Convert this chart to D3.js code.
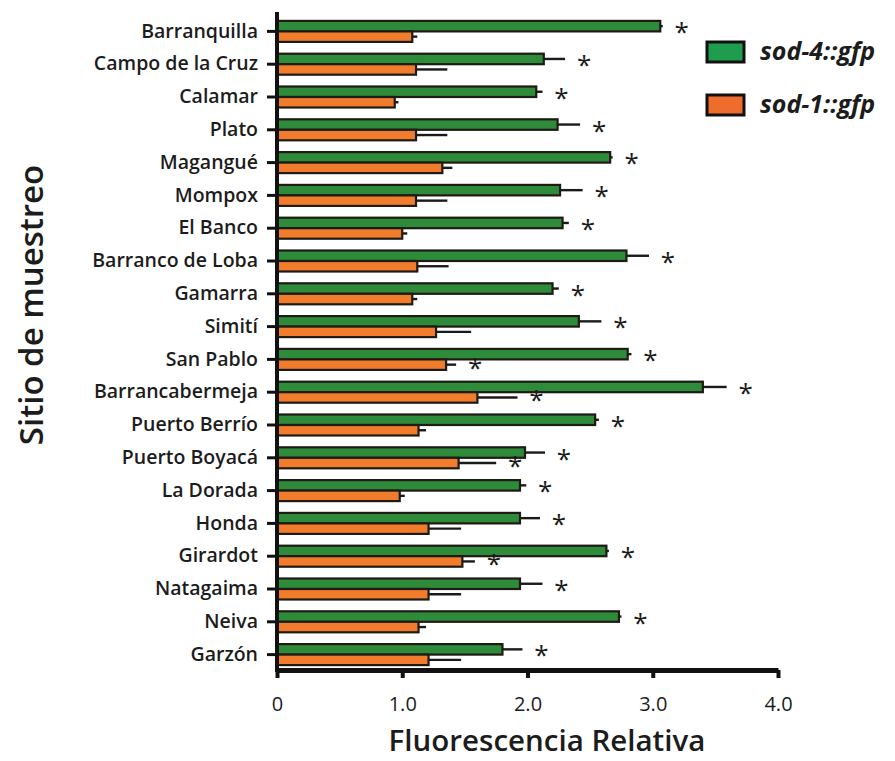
<!DOCTYPE html>
<html>
<head>
<meta charset="utf-8">
<script src="https://cdn.jsdelivr.net/npm/d3@7"></script>
<style>
  html, body { margin: 0; padding: 0; background: #ffffff; }
  svg { display: block; font-family: "Open Sans", "Liberation Sans", sans-serif; }
</style>
</head>
<body>
<svg id="chart" width="895" height="761"></svg>
<script>
// Sampling sites along the river, top to bottom
const sites = ["Barranquilla", "Campo de la Cruz", "Calamar", "Plato", "Magangué", "Mompox",
  "El Banco", "Barranco de Loba", "Gamarra", "Simití", "San Pablo", "Barrancabermeja",
  "Puerto Berrío", "Puerto Boyacá", "La Dorada", "Honda", "Girardot", "Natagaima", "Neiva", "Garzón"];

// Relative fluorescence of the sod-4::gfp reporter (mean and error)
const sod4 = [3.06, 2.13, 2.07, 2.24, 2.66, 2.26, 2.28, 2.79, 2.20, 2.41,
  2.80, 3.40, 2.54, 1.98, 1.94, 1.94, 2.63, 1.94, 2.73, 1.80];
const sod4Err = [0.02, 0.17, 0.05, 0.18, 0.02, 0.18, 0.05, 0.18, 0.05, 0.18,
  0.03, 0.19, 0.03, 0.16, 0.05, 0.16, 0.02, 0.18, 0.02, 0.16];

// Relative fluorescence of the sod-1::gfp reporter (mean and error)
const sod1 = [1.08, 1.11, 0.94, 1.11, 1.32, 1.11, 1.00, 1.12, 1.08, 1.27,
  1.35, 1.60, 1.13, 1.45, 0.98, 1.21, 1.48, 1.21, 1.13, 1.21];
const sod1Err = [0.04, 0.25, 0.03, 0.25, 0.08, 0.25, 0.04, 0.25, 0.04, 0.28,
  0.08, 0.32, 0.06, 0.30, 0.04, 0.26, 0.10, 0.26, 0.06, 0.26];

// Significance marks (*) per site
const sod4Sig = [true, true, true, true, true, true, true, true, true, true,
  true, true, true, true, true, true, true, true, true, true];
const sod1Sig = [false, false, false, false, false, false, false, false, false, false,
  true, true, false, true, false, false, true, false, false, false];

const xTicks = [0, 1, 2, 3, 4];
const xTickLabels = ["0", "1.0", "2.0", "3.0", "4.0"];

const seriesNames = ["sod-4::gfp", "sod-1::gfp"];
const barColors = ["#2e8b3a", "#f07c2c"];
const legendColors = ["#1f9d4f", "#ee6d2d"];

const svg = d3.select("#chart");

const x = d3.scaleLinear().domain([0, 4]).range([277, 778]);
const y = d3.scaleBand().domain(sites).range([15, 671]).padding(0);
const barH = 10.5;

// Rows of data for each series
const rows = sites.map((s, i) => ({
  site: s,
  vals: [
    { k: 0, v: sod4[i], e: sod4Err[i], sig: sod4Sig[i] },
    { k: 1, v: sod1[i], e: sod1Err[i], sig: sod1Sig[i] }
  ]
}));

const groups = svg.append("g").selectAll("g")
  .data(rows).join("g")
  .attr("transform", d => `translate(0,${y(d.site) + y.bandwidth() / 2})`);

// Error bars first so the bar outline sits over their start
groups.selectAll("line.err")
  .data(d => d.vals).join("line")
  .attr("class", "err")
  .attr("x1", d => x(d.v))
  .attr("x2", d => x(d.v + d.e))
  .attr("y1", d => (d.k === 0 ? -barH / 2 : barH / 2))
  .attr("y2", d => (d.k === 0 ? -barH / 2 : barH / 2))
  .attr("stroke", "#1a1a1a")
  .attr("stroke-width", 2.4);

groups.selectAll("rect")
  .data(d => d.vals).join("rect")
  .attr("x", x(0))
  .attr("y", d => (d.k === 0 ? -barH : 0))
  .attr("width", d => x(d.v) - x(0))
  .attr("height", barH)
  .attr("fill", d => barColors[d.k])
  .attr("stroke", "#1e1a16")
  .attr("stroke-width", 2.2);

// Asterisks beside significant bars
groups.selectAll("text.sig")
  .data(d => d.vals.filter(v => v.sig)).join("text")
  .attr("class", "sig")
  .attr("x", d => x(d.v + d.e) + 19)
  .attr("y", d => (d.k === 0 ? -barH / 2 : barH / 2 - 3) + 15)
  .attr("text-anchor", "middle")
  .attr("font-size", 26)
  .attr("font-weight", 400)
  .attr("fill", "#1a1a1a")
  .text("*");

// Y axis with site names
const yAxis = svg.append("g")
  .attr("transform", `translate(${x(0)},0)`)
  .call(d3.axisLeft(y).tickSize(10).tickPadding(9));
yAxis.select(".domain").remove();
yAxis.selectAll(".tick line").attr("stroke", "#111").attr("stroke-width", 3);
yAxis.selectAll(".tick text")
  .attr("font-size", 19.5)
  .attr("font-weight", 600)
  .attr("fill", "#1c1c1c")
  .attr("font-family", "'Open Sans', sans-serif");

svg.append("line")
  .attr("x1", x(0)).attr("x2", x(0))
  .attr("y1", 12).attr("y2", 672)
  .attr("stroke", "#111").attr("stroke-width", 4);

// X axis
const xAxis = svg.append("g")
  .attr("transform", `translate(0,670)`)
  .call(d3.axisBottom(x).tickValues(xTicks).tickFormat((d, i) => xTickLabels[i])
    .tickSize(8).tickSizeOuter(0).tickPadding(19));
xAxis.select(".domain").attr("stroke", "#111").attr("stroke-width", 5);
xAxis.selectAll(".tick line").attr("stroke", "#111").attr("stroke-width", 4);
xAxis.selectAll(".tick text")
  .attr("font-size", 20)
  .attr("font-weight", 500)
  .attr("fill", "#1c1c1c")
  .attr("font-family", "'Open Sans', sans-serif");

// Axis titles
svg.append("text")
  .attr("x", 547).attr("y", 751)
  .attr("text-anchor", "middle")
  .attr("font-size", 29.5)
  .attr("font-weight", 600)
  .attr("fill", "#1c1c1c")
  .text("Fluorescencia Relativa");

svg.append("text")
  .attr("transform", "translate(43,305) rotate(-90)")
  .attr("text-anchor", "middle")
  .attr("font-size", 33)
  .attr("font-weight", 600)
  .attr("fill", "#1c1c1c")
  .text("Sitio de muestreo");

// Legend
const legend = svg.append("g");
seriesNames.forEach((name, i) => {
  const ly = 42 + i * 53;
  legend.append("rect")
    .attr("x", 707).attr("y", ly)
    .attr("width", 37).attr("height", 20)
    .attr("fill", legendColors[i])
    .attr("stroke", "#111").attr("stroke-width", 3);
  legend.append("text")
    .attr("x", 760).attr("y", ly + 18)
    .attr("font-size", 25)
    .attr("font-weight", 700)
    .attr("font-style", "italic")
    .attr("fill", "#1c1c1c")
    .text(name);
});
</script>
</body>
</html>
